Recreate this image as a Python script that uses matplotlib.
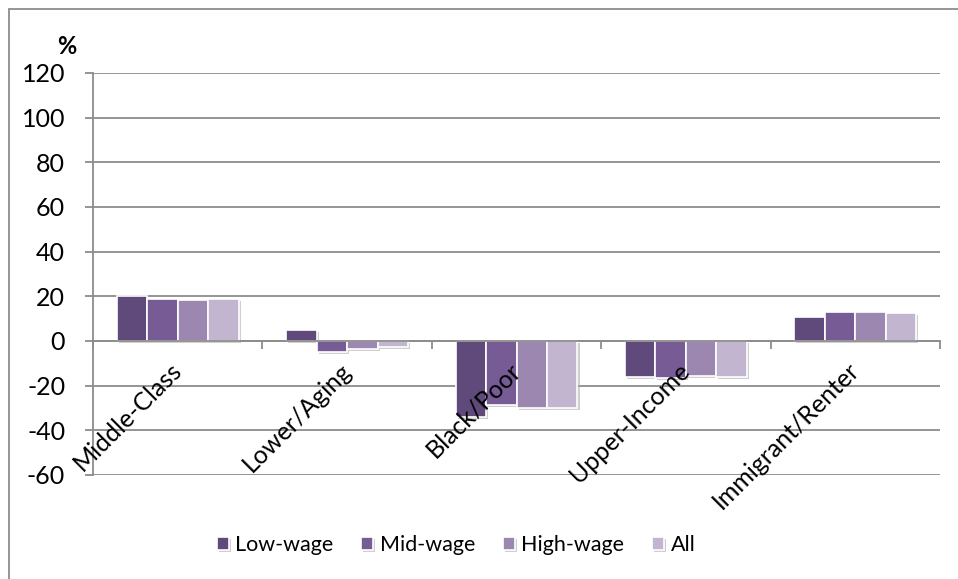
import numpy as np
import matplotlib.pyplot as plt
import matplotlib.patheffects as pe
import matplotlib.transforms as mtransforms
from matplotlib.patches import Rectangle

plt.rcParams['font.family'] = ['Lato', 'DejaVu Sans']
plt.rcParams['axes.unicode_minus'] = False

categories = ['Middle-Class', 'Lower/Aging', 'Black/Poor', 'Upper-Income', 'Immigrant/Renter']
series = ['Low-wage', 'Mid-wage', 'High-wage', 'All']
low_wage = [20.1, 4.8, -33.9, -16.3, 10.7]
mid_wage = [18.7, -4.8, -28.8, -16.7, 13.0]
high_wage = [18.2, -3.7, -29.9, -15.5, 12.8]
all_wage = [18.8, -2.5, -29.9, -16.0, 12.6]
colors = ['#604a7b', '#775b95', '#9b87b0', '#c1b5d0']

W, H = 958, 579
fig = plt.figure(figsize=(W / 100, H / 100), dpi=100)
ax = fig.add_axes([93 / W, 1 - 475 / H, (940 - 93) / W, (475 - 73) / H])

# outer chart frame (runs off the right and bottom edges)
fig.patches.append(Rectangle((9 / W, -20 / H), 980 / W, (H - 9 + 20) / H, transform=fig.transFigure,
                             fill=False, edgecolor='#8c8c8c', linewidth=1.3))

x = np.arange(len(categories))
width = 0.18
shadow = [pe.SimplePatchShadow(offset=(1.5, -1.5), shadow_rgbFace='#b0b0b0', alpha=0.6), pe.Normal()]
for i, (vals, name) in enumerate(zip([low_wage, mid_wage, high_wage, all_wage], series)):
    ax.bar(x + (i - 1.5) * width, vals, width, color=colors[i], edgecolor='white',
           linewidth=1.2, label=name, zorder=2, path_effects=shadow)

ax.set_xlim(-0.5, len(categories) - 0.5)
ax.set_ylim(-60, 120)
ax.set_yticks(np.arange(-60, 121, 20))
ax.yaxis.grid(True, color='#8c8c8c', linewidth=1.3)
ax.set_axisbelow(True)
ax.xaxis.set_zorder(5)  # category labels sit on top of the bars
ax.tick_params(axis='y', labelsize=18, length=6, width=1.3, color='#8c8c8c', pad=14)

for s in ['top', 'right']:
    ax.spines[s].set_visible(False)
ax.spines['left'].set_color('#8c8c8c')
ax.spines['left'].set_linewidth(1.3)
ax.spines['bottom'].set_position(('data', 0))
ax.spines['bottom'].set_color('#8c8c8c')
ax.spines['bottom'].set_linewidth(1.3)

ax.set_xticks(x)
ax.set_xticklabels(categories, rotation=45, ha='right', rotation_mode='anchor', fontsize=18)
ax.tick_params(axis='x', which='major', length=0, pad=14)
shift = mtransforms.ScaledTranslation(-0.08, 0.02, fig.dpi_scale_trans)
for lbl in ax.get_xticklabels():
    lbl.set_transform(lbl.get_transform() + shift)
ax.set_xticks(np.arange(-0.5, len(categories)), minor=True)
ax.tick_params(axis='x', which='minor', length=6, width=1.3, color='#8c8c8c', direction='out')

fig.text(67 / W, 1 - 46 / H, '%', fontsize=17, fontweight='bold', ha='center', va='center')

ax.legend(loc='center', bbox_to_anchor=(456 / W, 1 - 545 / H), bbox_transform=fig.transFigure,
          ncol=4, frameon=False, fontsize=15.5, handlelength=0.55, handleheight=0.55,
          handletextpad=0.3, columnspacing=1.3)

fig.savefig('out.png', dpi=100)
